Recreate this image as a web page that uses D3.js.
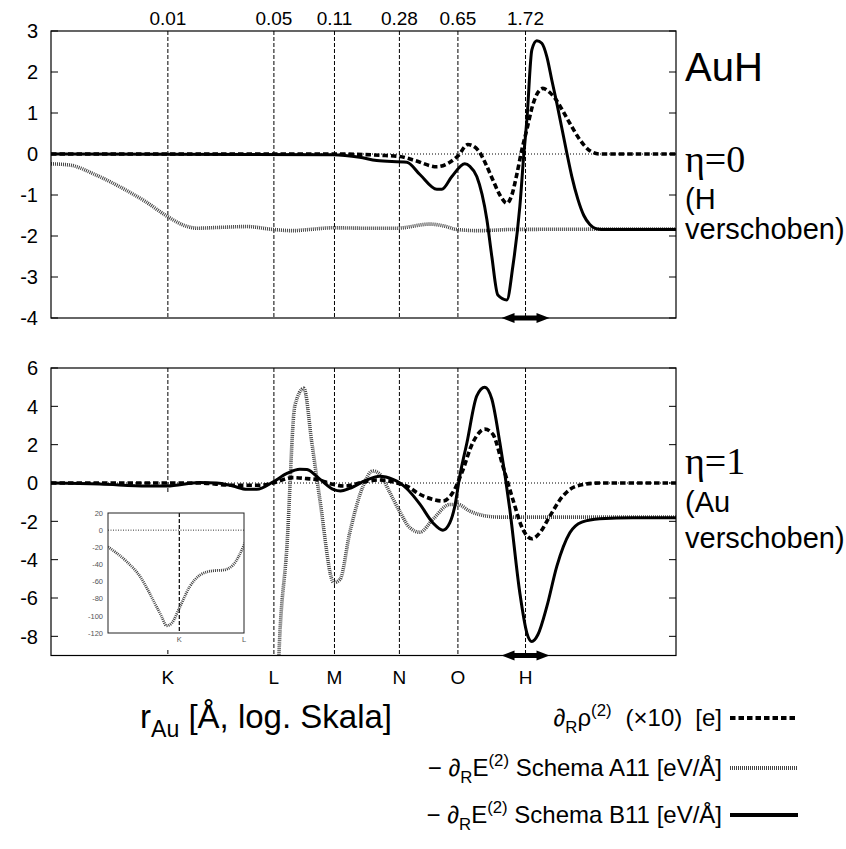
<!DOCTYPE html>
<html><head><meta charset="utf-8">
<script src="https://cdn.jsdelivr.net/npm/d3@7"></script>
<style>
body{margin:0;background:#fff;}
svg{display:block;font-family:"Liberation Sans",Arial,sans-serif;}
</style></head><body>
<svg id="chart" width="846" height="849"></svg>
<script>
// Shell radii (Å) marked by vertical lines, their radius labels and shell names
const shellRadii = [0.01, 0.046, 0.11, 0.28, 0.65, 1.72];
const radiusLabels = ["0.01", "0.05", "0.11", "0.28", "0.65", "1.72"];
const shellNames = ["K", "L", "M", "N", "O", "H"];
const topTicks = [3, 2, 1, 0, -1, -2, -3, -4];
const bottomTicks = [6, 4, 2, 0, -2, -4, -6, -8];
const insetTicks = [20, 0, -20, -40, -60, -80, -100, -120];

// eta = 0 (H displaced): [r in Å, value]
const rhoEta0 = [[0.00186,0],[0.107,0],[0.211,-0.03],[0.282,-0.06],[0.35,-0.16],[0.48,-0.31],[0.579,-0.2],[0.649,-0.05],[0.75,0.23],[0.866,0.1],[0.972,-0.25],[1.074,-0.63],[1.189,-1.0],[1.315,-1.2],[1.413,-1.0],[1.517,-0.5],[1.631,0.1],[1.754,0.6],[1.91,1.2],[2.054,1.5],[2.208,1.6],[2.44,1.5],[2.698,1.3],[2.944,1.05],[3.254,0.75],[3.758,0.35],[4.34,0.08],[5.012,0],[15,0]];
const a11Eta0 = [[0.00186,-0.24],[0.00244,-0.27],[0.0035,-0.5],[0.00501,-0.8],[0.00718,-1.15],[0.01,-1.53],[0.0128,-1.75],[0.0152,-1.81],[0.0211,-1.79],[0.0312,-1.77],[0.0453,-1.84],[0.0604,-1.87],[0.0772,-1.84],[0.107,-1.8],[0.17,-1.81],[0.27,-1.81],[0.434,-1.71],[0.538,-1.76],[0.64,-1.84],[0.891,-1.87],[1.432,-1.84],[15,-1.83]];
const b11Eta0 = [[0.00186,0],[0.107,-0.02],[0.158,-0.08],[0.202,-0.16],[0.312,-0.2],[0.376,-0.5],[0.48,-0.86],[0.516,-0.86],[0.596,-0.55],[0.718,-0.24],[0.772,-0.3],[0.853,-0.55],[0.986,-1.6],[1.059,-2.5],[1.155,-3.44],[1.315,-3.56],[1.432,-2.75],[1.585,-1.28],[1.679,0],[1.754,0.83],[1.884,2.54],[2.023,2.76],[2.175,2.7],[2.339,2.37],[2.512,1.8],[2.698,1.24],[3.119,0.02],[3.35,-0.55],[3.652,-1.1],[3.981,-1.5],[4.34,-1.72],[4.732,-1.82],[5.158,-1.84],[15,-1.84]];

// eta = 1 (Au displaced): [r in Å, value]
const rhoEta1 = [[0.00186,0],[0.0158,0],[0.0255,-0.12],[0.0376,-0.12],[0.0453,0],[0.0604,0.28],[0.074,0.23],[0.0891,0.15],[0.107,-0.07],[0.128,-0.16],[0.166,0.05],[0.211,0.16],[0.27,0],[0.325,-0.24],[0.36,-0.5],[0.453,-0.85],[0.524,-0.94],[0.604,-0.5],[0.688,0.54],[0.805,2.1],[0.957,2.81],[1.074,2.55],[1.241,0.89],[1.432,-0.85],[1.656,-2.42],[1.884,-2.91],[2.113,-2.6],[2.44,-1.73],[2.944,-0.68],[3.597,-0.16],[5.012,0],[15,0]];
const a11Eta1 = [[0.00186,-19.5],[0.0029,-36.9],[0.00398,-54.3],[0.00538,-81.4],[0.00659,-100.8],[0.0074,-111.6],[0.00836,-108.5],[0.01,-91],[0.0128,-65.9],[0.0163,-52.4],[0.0221,-47.4],[0.0282,-46.6],[0.0355,-40.7],[0.046,-17.5],[0.0494,-9.06],[0.0555,-3.3],[0.0622,4.03],[0.0708,4.94],[0.0794,2.1],[0.0891,-0.85],[0.109,-5.2],[0.119,-5.04],[0.137,-2.6],[0.166,-0.16],[0.191,0.63],[0.211,0.46],[0.244,-0.5],[0.282,-1.5],[0.325,-2.33],[0.376,-2.57],[0.453,-1.9],[0.579,-1.12],[0.649,-1.12],[0.772,-1.47],[0.986,-1.73],[1.189,-1.78],[15,-1.78]];
const b11Eta1 = [[0.00186,0],[0.00376,-0.05],[0.0074,-0.16],[0.00986,-0.16],[0.0158,0.02],[0.0202,0],[0.0255,-0.16],[0.0312,-0.33],[0.036,-0.33],[0.0453,0.05],[0.0555,0.5],[0.0668,0.72],[0.074,0.7],[0.0891,0.2],[0.109,-0.35],[0.12,-0.42],[0.137,-0.28],[0.175,0.16],[0.211,0.35],[0.255,0.19],[0.282,0],[0.312,-0.3],[0.376,-1.1],[0.453,-2.07],[0.524,-2.46],[0.579,-2.07],[0.622,-1.2],[0.668,0.37],[0.74,2.1],[0.853,4.55],[0.957,5.0],[1.059,4.38],[1.189,2.1],[1.372,-1.38],[1.585,-5.74],[1.754,-7.83],[1.884,-8.27],[2.054,-7.92],[2.339,-6.44],[2.698,-4.35],[3.254,-2.6],[3.868,-2.04],[5.012,-1.86],[8.054,-1.81],[15,-1.81]];

const legendRows = [
  {parts:[{t:"∂"},{t:"R",sub:1},{t:"ρ"},{t:"(2)",sup:1},{t:"(×10)",dx:14},{t:"[e]",dx:13}], style:"rho"},
  {parts:[{t:"− ∂"},{t:"R",sub:1},{t:"E"},{t:"(2)",sup:1},{t:" Schema A11 [eV/Å]"}], style:"a11"},
  {parts:[{t:"− ∂"},{t:"R",sub:1},{t:"E"},{t:"(2)",sup:1},{t:" Schema B11 [eV/Å]"}], style:"b11"}
];

const styles = {
  rho: {stroke:"#000", width:3.6, dash:"5.5,3"},
  a11: {stroke:"#444", width:3.6, dash:"1,1"},
  b11: {stroke:"#000", width:3.0, dash:null}
};

const svg = d3.select("#chart");
const X0 = 51, X1 = 676;
const x = d3.scaleLog().domain([0.00186, 15]).range([X0, X1]);

function richText(g, px, py, parts, size, anchor) {
  const t = g.append("text").attr("x", px).attr("y", py)
    .attr("font-size", size).attr("text-anchor", anchor || "start");
  let shift = 0;
  parts.forEach(p => {
    const target = p.sub ? 0.28 * size : p.sup ? -0.42 * size : 0;
    const ts = t.append("tspan").text(p.t).attr("dy", target - shift);
    if (p.dx) ts.attr("dx", p.dx);
    if (p.sub || p.sup) ts.attr("font-size", size * 0.7);
    shift = target;
  });
  return t;
}

function applyStyle(sel, s) {
  sel.attr("fill", "none").attr("stroke", s.stroke).attr("stroke-width", s.width)
     .attr("stroke-linejoin", "round");
  if (s.dash) sel.attr("stroke-dasharray", s.dash);
  return sel;
}

function arrow(g, cx, cy) {
  const p = d3.path();
  p.moveTo(cx - 24, cy); p.lineTo(cx - 11, cy - 5); p.lineTo(cx - 11, cy - 2.5);
  p.lineTo(cx + 11, cy - 2.5); p.lineTo(cx + 11, cy - 5); p.lineTo(cx + 24, cy);
  p.lineTo(cx + 11, cy + 5); p.lineTo(cx + 11, cy + 2.5); p.lineTo(cx - 11, cy + 2.5);
  p.lineTo(cx - 11, cy + 5); p.closePath();
  g.append("path").attr("d", p.toString()).attr("fill", "#000");
}

function panel(id, yTop, yBot, domain, ticks, series, extra) {
  const y = d3.scaleLinear().domain(domain).range([yBot, yTop]);
  const g = svg.append("g");
  g.append("clipPath").attr("id", "clip" + id).append("rect")
    .attr("x", X0).attr("y", yTop).attr("width", X1 - X0).attr("height", yBot - yTop);

  // shell lines
  g.selectAll(".grid").data(shellRadii).join("line")
    .attr("x1", d => x(d)).attr("x2", d => x(d)).attr("y1", yTop).attr("y2", yBot)
    .attr("stroke", "#000").attr("stroke-width", 1).attr("stroke-dasharray", "4,2");
  // zero line
  g.append("line").attr("x1", X0).attr("x2", X1).attr("y1", y(0)).attr("y2", y(0))
    .attr("stroke", "#000").attr("stroke-width", 1).attr("stroke-dasharray", "1,2");

  const line = d3.line().x(d => x(d[0])).y(d => y(d[1])).curve(d3.curveMonotoneX);
  const cg = g.append("g").attr("clip-path", `url(#clip${id})`);
  series.forEach(s => applyStyle(cg.append("path").attr("d", line(s.data)), styles[s.style]));

  if (extra) extra(g, y);

  // frame and ticks
  g.append("rect").attr("x", X0).attr("y", yTop).attr("width", X1 - X0).attr("height", yBot - yTop)
    .attr("fill", "none").attr("stroke", "#000").attr("stroke-width", 1.2);
  ticks.forEach(v => {
    g.append("line").attr("x1", X0).attr("x2", X0 + 7).attr("y1", y(v)).attr("y2", y(v)).attr("stroke", "#000");
    g.append("line").attr("x1", X1 - 7).attr("x2", X1).attr("y1", y(v)).attr("y2", y(v)).attr("stroke", "#000");
  });
  g.selectAll(".yl").data(ticks).join("text")
    .attr("x", 38).attr("y", d => y(d)).attr("dy", "0.36em").attr("text-anchor", "end")
    .attr("font-size", 20).text(d => d);
  arrow(g, x(shellRadii[5]), yBot);
  return {g, y};
}

// upper panel (eta = 0)
const upperPanel = panel("T", 31, 318, [-4, 3], topTicks, [
  {data: a11Eta0, style: "a11"}, {data: rhoEta0, style: "rho"}, {data: b11Eta0, style: "b11"}
]);
svg.selectAll(".rl").data(shellRadii).join("text")
  .attr("x", d => x(d)).attr("y", 25).attr("text-anchor", "middle").attr("font-size", 19)
  .text((d, i) => radiusLabels[i]);

// lower panel (eta = 1) with an inset for the deep A11 region
const lowerPanel = panel("B", 368, 655.5, [-9, 6], bottomTicks, [
  {data: a11Eta1, style: "a11"}, {data: rhoEta1, style: "rho"}, {data: b11Eta1, style: "b11"}
], (g) => {
  g.append("rect").attr("x", 76).attr("y", 493).attr("width", 176).attr("height", 157).attr("fill", "#fff");
  const ix = d3.scaleLog().domain([0.00186, shellRadii[1]]).range([108, 244]);
  const iy = d3.scaleLinear().domain([-120, 20]).range([633, 513]);
  const ig = g.append("g");
  ig.append("clipPath").attr("id", "clipI").append("rect")
    .attr("x", 108).attr("y", 513).attr("width", 136).attr("height", 120);
  ig.append("line").attr("x1", 108).attr("x2", 244).attr("y1", iy(0)).attr("y2", iy(0))
    .attr("stroke", "#000").attr("stroke-width", 0.8).attr("stroke-dasharray", "1,1.5");
  ig.append("line").attr("x1", ix(shellRadii[0])).attr("x2", ix(shellRadii[0]))
    .attr("y1", 513).attr("y2", 633).attr("stroke", "#000").attr("stroke-width", 1.2)
    .attr("stroke-dasharray", "4,2");
  const iline = d3.line().x(d => ix(d[0])).y(d => iy(d[1])).curve(d3.curveMonotoneX);
  ig.append("path").attr("clip-path", "url(#clipI)").attr("d", iline(a11Eta1))
    .attr("fill", "none").attr("stroke", "#444").attr("stroke-width", 2.8).attr("stroke-dasharray", "1,1");
  ig.append("rect").attr("x", 108).attr("y", 513).attr("width", 136).attr("height", 120)
    .attr("fill", "none").attr("stroke", "#222").attr("stroke-width", 1);
  ig.selectAll(".il").data(insetTicks).join("text")
    .attr("x", 103).attr("y", d => iy(d)).attr("dy", "0.36em").attr("text-anchor", "end")
    .attr("font-size", 7.5).attr("fill", "#555").text(d => d);
  ig.selectAll(".ik").data([0, 1]).join("text")
    .attr("x", i => ix(shellRadii[i])).attr("y", 642).attr("text-anchor", "middle")
    .attr("font-size", 7.5).attr("fill", "#555").text(i => shellNames[i]);
});
svg.selectAll(".sl").data(shellRadii).join("text")
  .attr("x", d => x(d)).attr("y", 684).attr("text-anchor", "middle").attr("font-size", 19)
  .text((d, i) => shellNames[i]);

// side annotations
svg.append("text").attr("x", 685).attr("y", 81).attr("font-size", 40).text("AuH");
svg.append("text").attr("x", 685).attr("y", 172).attr("font-size", 38)
  .attr("font-family", "Liberation Serif, serif").text("η=0");
svg.append("text").attr("x", 685).attr("y", 209).attr("font-size", 29).text("(H");
svg.append("text").attr("x", 685).attr("y", 239).attr("font-size", 29).text("verschoben)");
svg.append("text").attr("x", 685).attr("y", 474).attr("font-size", 38)
  .attr("font-family", "Liberation Serif, serif").text("η=1");
svg.append("text").attr("x", 685).attr("y", 512).attr("font-size", 29).text("(Au");
svg.append("text").attr("x", 685).attr("y", 548).attr("font-size", 29).text("verschoben)");

// axis title
richText(svg, 140, 728, [{t:"r"},{t:"Au",sub:1},{t:" [Å, log. Skala]"}], 33, "start");

// legend
const legY = [718, 768, 815];
legendRows.forEach((row, i) => {
  richText(svg, 722, legY[i] + 8, row.parts, 24, "end");
  applyStyle(svg.append("line").attr("x1", 730).attr("x2", 798)
    .attr("y1", legY[i]).attr("y2", legY[i]), Object.assign({}, styles[row.style], {width: 4}));
});
</script>
</body></html>
